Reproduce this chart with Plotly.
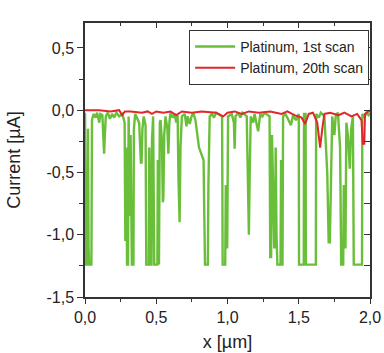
from plotly import graph_objects as go

# Platinum, 1st scan (x in µm, current in µA)
x_first = [
    0.000, 0.004, 0.008, 0.018, 0.021, 0.025, 0.029, 0.045, 0.049, 0.060,
    0.075, 0.085, 0.100, 0.108, 0.122, 0.128, 0.134, 0.140, 0.146, 0.160,
    0.175, 0.190, 0.205, 0.220, 0.240, 0.262, 0.278, 0.283, 0.290, 0.295,
    0.302, 0.306, 0.316, 0.320, 0.325, 0.329, 0.340, 0.343, 0.352, 0.365,
    0.380, 0.392, 0.397, 0.403, 0.412, 0.425, 0.430, 0.436, 0.448, 0.451,
    0.456, 0.461, 0.467, 0.470, 0.478, 0.486, 0.492, 0.508, 0.511, 0.515,
    0.519, 0.525, 0.530, 0.540, 0.546, 0.550, 0.556, 0.565, 0.578, 0.585,
    0.592, 0.600, 0.615, 0.628, 0.640, 0.650, 0.656, 0.664, 0.670, 0.680,
    0.700, 0.712, 0.720, 0.735, 0.745, 0.760, 0.775, 0.790, 0.800, 0.832,
    0.842, 0.862, 0.866, 0.875, 0.890, 0.905, 0.920, 0.962, 0.966, 0.984,
    0.988, 0.993, 0.998, 1.004, 1.030, 1.045, 1.050, 1.056, 1.075, 1.090,
    1.105, 1.135, 1.143, 1.150, 1.156, 1.163, 1.180, 1.190, 1.215, 1.222,
    1.230, 1.245, 1.260, 1.295, 1.300, 1.306, 1.312, 1.320, 1.328, 1.334,
    1.338, 1.344, 1.350, 1.372, 1.376, 1.381, 1.386, 1.390, 1.405, 1.420,
    1.445, 1.460, 1.480, 1.500, 1.502, 1.535, 1.537, 1.548, 1.550, 1.620,
    1.622, 1.640, 1.655, 1.680, 1.700, 1.710, 1.718, 1.735, 1.750, 1.760,
    1.775, 1.790, 1.798, 1.812, 1.816, 1.822, 1.828, 1.834, 1.845, 1.858,
    1.868, 1.880, 1.886, 1.944, 1.946, 1.960, 1.975, 1.990, 2.000,
]
y_first = [
    -0.02, -0.60, -1.24, -1.24, -0.15, -1.10, -1.24, -1.24, -0.08, -0.03,
    -0.06, -0.02, -0.10, -0.03, -0.04, -0.20, -0.35, -0.18, -0.05, -0.02,
    -0.07, -0.03, -0.06, -0.02, -0.05, -0.03, -0.10, -1.05, -0.30, -1.24,
    -1.24, -0.05, -0.85, -0.20, -1.24, -1.24, -1.24, -0.15, -0.03, -0.06,
    -0.10, -0.42, -0.42, -0.15, -0.05, -0.12, -1.24, -1.24, -1.24, -0.30,
    -1.00, -1.24, -1.24, -0.25, -0.05, -1.24, -1.24, -1.24, -0.40, -1.24,
    -1.24, -0.10, -0.08, -0.25, -0.74, -0.70, -0.20, -0.05, -0.15, -0.35,
    -0.10, -0.02, -0.06, -0.03, -0.10, -0.04, -0.55, -0.90, -0.30, -0.05,
    -0.03, -0.13, -0.05, -0.11, -0.06, -0.02, -0.08, -0.22, -0.30, -0.40,
    -1.24, -1.24, -0.60, -0.05, -0.03, -0.06, -0.02, -0.05, -1.24, -1.24,
    -0.60, -1.10, -1.10, -0.05, -0.03, -0.10, -0.31, -0.05, -0.02, -0.06,
    -0.02, -0.05, -0.80, -1.00, -0.50, -0.05, -0.10, -0.03, -0.17, -0.10,
    -0.03, -0.05, -0.02, -0.05, -1.18, -1.18, -0.20, -0.60, -1.10, -1.10,
    -0.30, -1.00, -1.24, -1.24, -0.40, -1.24, -1.24, -0.05, -0.03, -0.06,
    -0.12, -0.04, -0.08, -0.03, -1.24, -1.24, -0.03, -0.03, -1.24, -1.24,
    -0.03, -0.06, -0.02, -0.05, -0.50, -1.06, -1.06, -0.05, -0.20, -0.04,
    -0.02, -0.30, -1.24, -1.24, -0.60, -1.10, -1.10, -0.10, -0.20, -0.47,
    -0.15, -0.05, -1.24, -1.24, -0.03, -0.06, -0.02, -0.04, -0.02,
]

# Platinum, 20th scan
x_twentieth = [
    0.00, 0.10, 0.18, 0.24, 0.26, 0.28, 0.32, 0.40, 0.44, 0.47,
    0.50, 0.55, 0.60, 0.64, 0.68, 0.75, 0.82, 0.92, 0.97, 1.00,
    1.05, 1.10, 1.15, 1.22, 1.30, 1.38, 1.42, 1.47, 1.52, 1.545,
    1.57, 1.60, 1.63, 1.65, 1.665, 1.68, 1.72, 1.78, 1.82, 1.87,
    1.91, 1.94, 1.95, 1.96, 1.965, 2.00,
]
y_twentieth = [
    0.00, 0.00, -0.01, 0.00, -0.04, -0.01, -0.01, -0.02, -0.01, -0.03,
    -0.01, -0.02, -0.01, -0.04, -0.01, -0.02, -0.01, -0.02, -0.05, -0.02,
    -0.01, -0.03, -0.01, -0.02, -0.01, -0.03, -0.01, -0.04, -0.06, -0.11,
    -0.03, -0.02, -0.10, -0.30, -0.15, -0.03, -0.02, -0.04, -0.02, -0.05,
    -0.03, -0.08, -0.27, -0.27, -0.03, 0.00,
]

x_ticks = [0.0, 0.5, 1.0, 1.5, 2.0]
x_labels = ["0,0", "0,5", "1,0", "1,5", "2,0"]
y_ticks = [0.5, 0.0, -0.5, -1.0, -1.5]
y_labels = ["0,5", "0,0", "-0,5", "-1,0", "-1,5"]

X_RANGE = [0, 2.0]
Y_RANGE = [-1.5, 0.7]
AXIS_COLOR = "#333333"
FONT = "Liberation Sans, Arial, sans-serif"

fig = go.Figure()
fig.add_trace(
    go.Scatter(
        x=x_first,
        y=y_first,
        mode="lines",
        name="Platinum, 1st scan",
        line=dict(color="#6abf3a", width=2.4),
    )
)
fig.add_trace(
    go.Scatter(
        x=x_twentieth,
        y=y_twentieth,
        mode="lines",
        name="Platinum, 20th scan",
        line=dict(color="#e3262a", width=2),
    )
)
# empty trace so the top/right mirror axes get drawn
fig.add_trace(
    go.Scatter(
        x=[None], y=[None], xaxis="x2", yaxis="y2",
        showlegend=False, hoverinfo="skip",
    )
)

fig.update_layout(
    width=384,
    height=353,
    font=dict(family=FONT, size=16, color="#222222"),
    plot_bgcolor="white",
    paper_bgcolor="white",
    margin=dict(l=85, r=14, t=23, b=56),
    showlegend=True,
    legend=dict(
        x=0.997,
        y=0.975,
        xanchor="right",
        yanchor="top",
        bordercolor=AXIS_COLOR,
        borderwidth=1,
        bgcolor="white",
        font=dict(size=14),
        tracegroupgap=0,
        itemwidth=40,
    ),
    xaxis=dict(
        range=X_RANGE,
        tickvals=x_ticks,
        ticktext=x_labels,
        ticks="outside",
        ticklen=5,
        tickcolor=AXIS_COLOR,
        minor=dict(dtick=0.25, ticks="outside", ticklen=3, tickcolor=AXIS_COLOR),
        showline=True,
        linecolor=AXIS_COLOR,
        linewidth=1.5,
        showgrid=False,
        zeroline=False,
        automargin=False,
        title=dict(text="x [µm]", standoff=10, font=dict(size=18)),
    ),
    yaxis=dict(
        range=Y_RANGE,
        tickvals=y_ticks,
        ticktext=y_labels,
        ticks="outside",
        ticklen=6,
        tickcolor=AXIS_COLOR,
        minor=dict(dtick=0.25, ticks="outside", ticklen=4, tickcolor=AXIS_COLOR),
        showline=True,
        linecolor=AXIS_COLOR,
        linewidth=1.5,
        showgrid=False,
        zeroline=False,
        automargin=False,
        title=dict(text="Current [µA]", standoff=21, font=dict(size=18)),
    ),
    xaxis2=dict(
        overlaying="x",
        side="top",
        range=X_RANGE,
        tickvals=x_ticks,
        showticklabels=False,
        ticks="inside",
        ticklen=5,
        tickcolor=AXIS_COLOR,
        minor=dict(dtick=0.25, ticks="inside", ticklen=3, tickcolor=AXIS_COLOR),
        showline=True,
        linecolor=AXIS_COLOR,
        linewidth=1.5,
        showgrid=False,
        zeroline=False,
        automargin=False,
    ),
    yaxis2=dict(
        overlaying="y",
        side="right",
        range=Y_RANGE,
        tickvals=y_ticks,
        showticklabels=False,
        ticks="inside",
        ticklen=6,
        tickcolor=AXIS_COLOR,
        minor=dict(dtick=0.25, ticks="inside", ticklen=6, tickcolor=AXIS_COLOR),
        showline=True,
        linecolor=AXIS_COLOR,
        linewidth=1.5,
        showgrid=False,
        zeroline=False,
        automargin=False,
    ),
)

# drop the browser's default page margin so the figure fills the window
fig.write_html(
    "out.html",
    config={"displayModeBar": False},
    post_script="document.body.style.margin='0';document.body.style.overflow='hidden';",
)
